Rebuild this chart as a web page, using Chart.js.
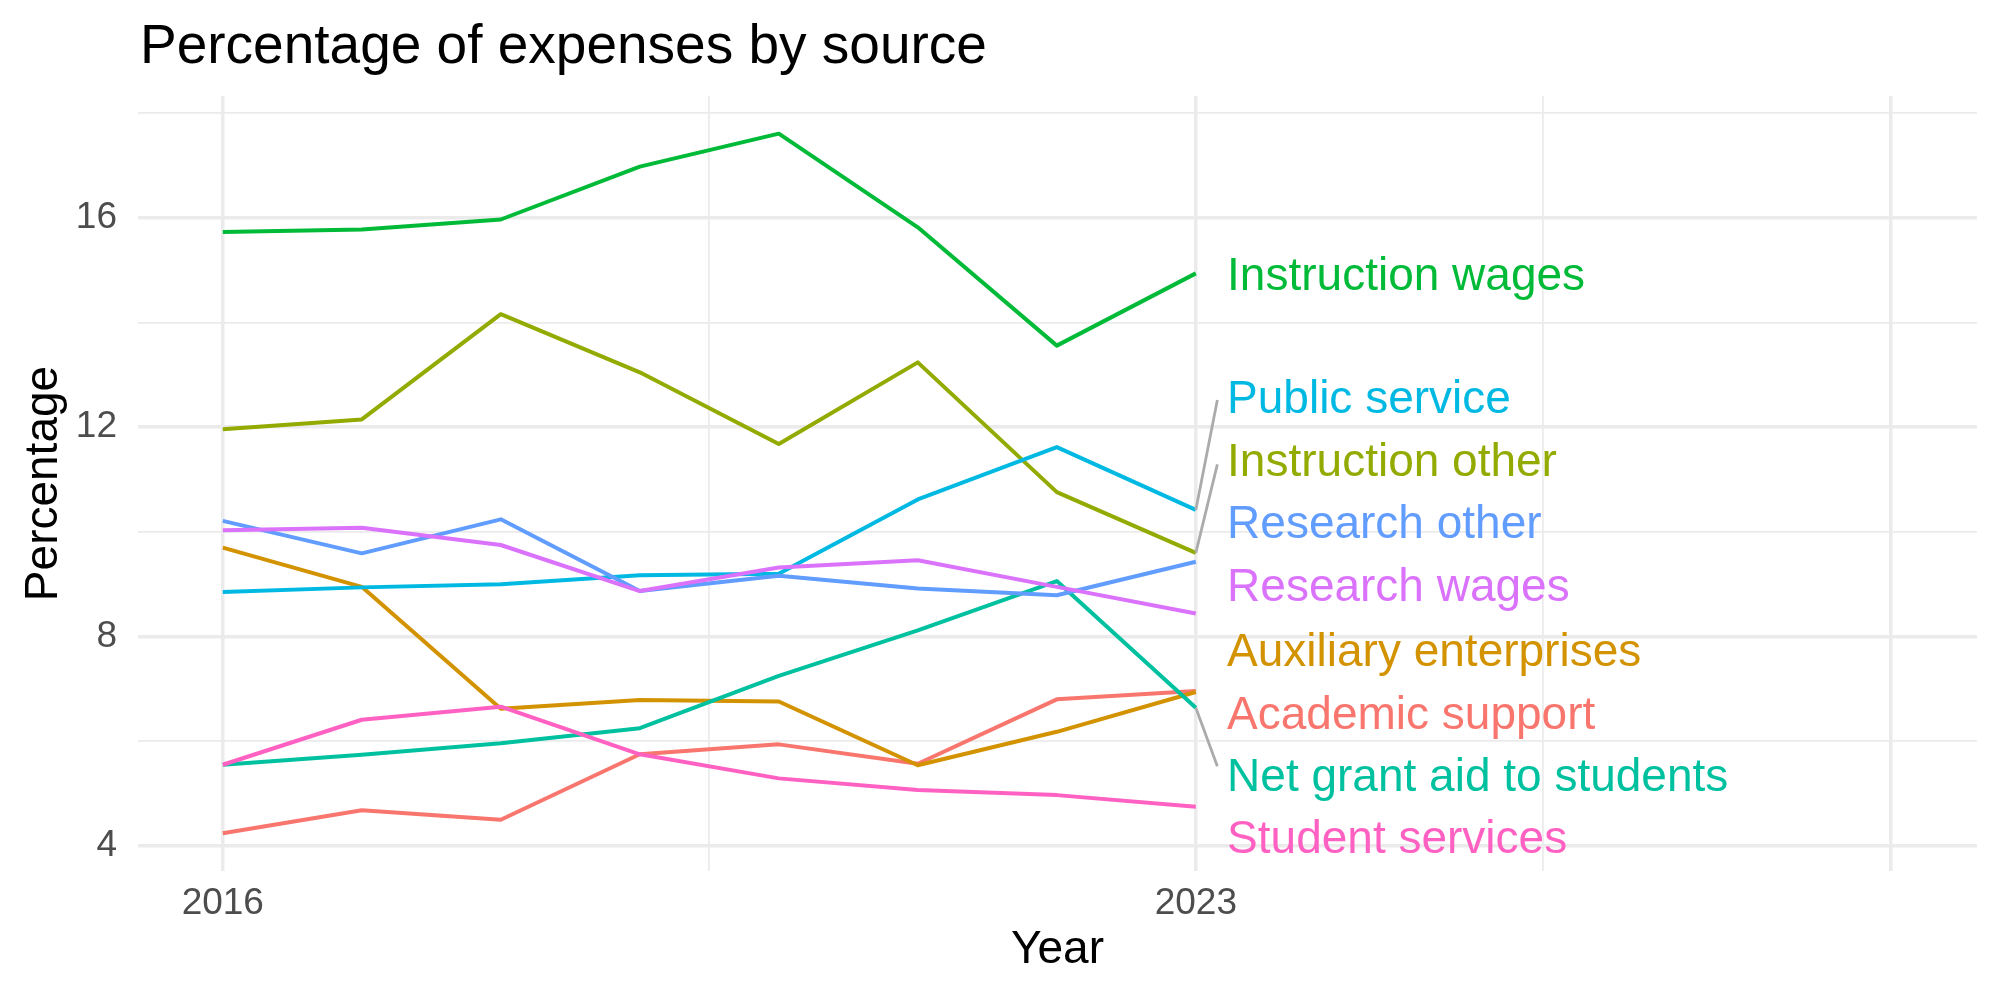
<!DOCTYPE html>
<html>
<head>
<meta charset="utf-8">
<title>Percentage of expenses by source</title>
<script src="https://cdn.jsdelivr.net/npm/chart.js@4.4.1/dist/chart.umd.min.js"></script>
<style>
    html, body { margin: 0; padding: 0; background: #fff; }
    canvas { display: block; }
</style>
</head>
<body>
<canvas id="expenseChart" width="2000" height="1000"></canvas>
<script>
// years on the x axis
var years = [2016, 2017, 2018, 2019, 2020, 2021, 2022, 2023];

// sources, in the (alphabetical) order ggplot gave them
var sources = [
    "Academic support",
    "Auxiliary enterprises",
    "Instruction other",
    "Instruction wages",
    "Net grant aid to students",
    "Public service",
    "Research other",
    "Research wages",
    "Student services"
];

// percentage of expenses, one array per source
var academicSupport     = [4.24, 4.68, 4.50, 5.75, 5.94, 5.57, 6.80, 6.96];
var auxiliaryEnterprise = [9.70, 8.95, 6.62, 6.79, 6.76, 5.54, 6.18, 6.94];
var instructionOther    = [11.96, 12.15, 14.16, 13.05, 11.68, 13.24, 10.76, 9.60];
var instructionWages    = [15.73, 15.78, 15.97, 16.98, 17.61, 15.82, 13.56, 14.94];
var netGrantAid         = [5.55, 5.74, 5.96, 6.25, 7.25, 8.12, 9.06, 6.64];
var publicService       = [8.85, 8.94, 9.00, 9.17, 9.20, 10.62, 11.62, 10.42];
var researchOther       = [10.21, 9.59, 10.24, 8.87, 9.16, 8.92, 8.79, 9.43];
var researchWages       = [10.03, 10.08, 9.75, 8.87, 9.32, 9.46, 8.95, 8.44];
var studentServices     = [5.55, 6.41, 6.66, 5.75, 5.29, 5.07, 4.97, 4.75];

var seriesValues = [academicSupport, auxiliaryEnterprise, instructionOther, instructionWages,
                    netGrantAid, publicService, researchOther, researchWages, studentServices];

// where the repelled text labels ended up (in percentage units)
var labelY = [6.55, 7.75, 11.39, 14.93, 5.36, 12.59, 10.20, 9.00, 4.17];
// end of the grey connector for labels that got pushed away (null = no connector)
var connectorEndY = [null, null, 11.29, null, 5.52, 12.52, null, null, null];

// tick labels
var xTickLabels = [2016, 2023];
var yTickLabels = [4, 8, 12, 16];

var seriesColors = ["#F8766D", "#D39200", "#93AA00", "#00BA38", "#00C19F",
                    "#00B9E3", "#619CFF", "#DB72FB", "#FF61C3"];

var FONT = '"Liberation Sans", Arial, Helvetica, sans-serif';
var GRID = "#EBEBEB";

/**
 * Build the datasets from the arrays above
 */
function buildDatasets() {
    var sets = [];
    for (var i = 0; i < sources.length; i++) {
        var pts = [];
        for (var j = 0; j < years.length; j++) {
            pts.push({x: years[j], y: seriesValues[i][j]});
        }
        sets.push({
            label: sources[i],
            data: pts,
            borderColor: seriesColors[i],
            backgroundColor: seriesColors[i],
            fill: false,
            order: sources.length - i   // later groups on top, like ggplot
        });
    }
    return sets;
}

/**
 * Title, end labels and connectors
 */
var annotatePlugin = {
    id: "annotate",
    afterDatasetsDraw: function (chart) {
        var ctx = chart.ctx;
        var xs = chart.scales.x;
        var ys = chart.scales.y;
        var lastYear = years[years.length - 1];

        ctx.save();
        // connectors
        ctx.strokeStyle = "#ABABAB";
        ctx.lineWidth = 2.8;
        for (var i = 0; i < sources.length; i++) {
            if (connectorEndY[i] === null) continue;
            var last = seriesValues[i][seriesValues[i].length - 1];
            ctx.beginPath();
            ctx.moveTo(xs.getPixelForValue(lastYear), ys.getPixelForValue(last));
            ctx.lineTo(xs.getPixelForValue(lastYear + 0.155), ys.getPixelForValue(connectorEndY[i]));
            ctx.stroke();
        }

        // labels
        ctx.font = "46px " + FONT;
        ctx.textAlign = "left";
        ctx.textBaseline = "alphabetic";
        for (var k = 0; k < sources.length; k++) {
            ctx.fillStyle = seriesColors[k];
            ctx.fillText(sources[k], xs.getPixelForValue(lastYear + 0.225), ys.getPixelForValue(labelY[k]) + 16.5);
        }

        // title
        ctx.fillStyle = "#000";
        ctx.font = "55px " + FONT;
        ctx.fillText("Percentage of expenses by source", 140, 63);
        ctx.restore();
    }
};

var ctx = document.getElementById("expenseChart").getContext("2d");

var expenseChart = new Chart(ctx, {
    type: "line",
    data: {datasets: buildDatasets()},
    options: {
        responsive: false,
        animation: false,
        devicePixelRatio: 1,
        layout: {padding: {top: 96, right: 23, left: 0, bottom: 0}},
        plugins: {
            legend: {display: false},
            tooltip: {enabled: false},
            title: {display: false}
        },
        elements: {
            point: {radius: 0},
            line: {tension: 0, borderWidth: 4, borderJoinStyle: "round", borderCapStyle: "butt"}
        },
        scales: {
            x: {
                type: "linear",
                min: 2015.39,
                max: 2028.62,
                bounds: "data",
                afterBuildTicks: function (s) {
                    s.ticks = [2016, 2019.5, 2023, 2025.5, 2028].map(function (v) { return {value: v}; });
                },
                afterFit: function (s) { s.height = 129; },
                grid: {
                    color: GRID,
                    drawTicks: false,
                    lineWidth: function (c) {
                        return (c.tick && c.tick.value % 1 === 0) ? 3.5 : 1.75;
                    }
                },
                border: {display: false},
                ticks: {
                    autoSkip: false,
                    maxRotation: 0,
                    padding: 11,
                    color: "#4D4D4D",
                    font: {size: 37, family: FONT},
                    callback: function (v) {
                        return xTickLabels.indexOf(v) >= 0 ? String(v) : "";
                    }
                },
                title: {
                    display: true,
                    text: "Year",
                    color: "#000",
                    font: {size: 46, family: FONT},
                    padding: {top: 0, bottom: 22}
                }
            },
            y: {
                type: "linear",
                min: 3.52,
                max: 18.33,
                bounds: "data",
                afterBuildTicks: function (s) {
                    s.ticks = [4, 6, 8, 10, 12, 14, 16, 18].map(function (v) { return {value: v}; });
                },
                afterFit: function (s) { s.width = 138; },
                grid: {
                    color: GRID,
                    drawTicks: false,
                    lineWidth: function (c) {
                        return (c.tick && yTickLabels.indexOf(c.tick.value) >= 0) ? 3.5 : 1.75;
                    }
                },
                border: {display: false},
                ticks: {
                    autoSkip: false,
                    padding: 21,
                    color: "#4D4D4D",
                    font: {size: 37, family: FONT},
                    callback: function (v) {
                        return yTickLabels.indexOf(v) >= 0 ? String(v) : "";
                    }
                },
                title: {
                    display: true,
                    text: "Percentage",
                    color: "#000",
                    font: {size: 46, family: FONT},
                    padding: {top: 17, bottom: 0}
                }
            }
        }
    },
    plugins: [annotatePlugin]
});
</script>
</body>
</html>
